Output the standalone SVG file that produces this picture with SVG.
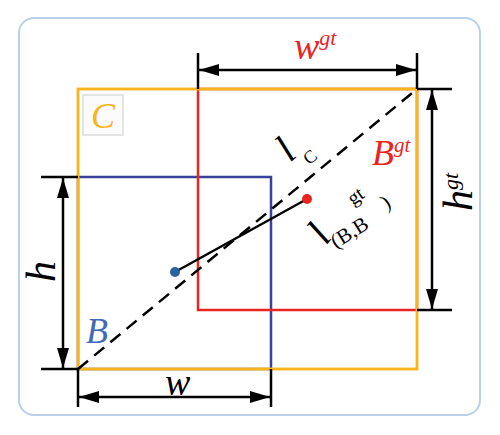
<svg xmlns="http://www.w3.org/2000/svg" width="500" height="435" viewBox="0 0 500 435">
<style>
.mi{font-family:"Liberation Serif","DejaVu Serif",serif;font-style:italic}
.rm{font-family:"Liberation Serif","DejaVu Serif",serif}
.dim{stroke:#000;stroke-width:2.5;fill:none}
.ext{stroke:#000;stroke-width:2.5;fill:none}
</style>
<defs>
<marker id="ah" viewBox="0 0 20 12" refX="20" refY="6" markerWidth="20" markerHeight="12" markerUnits="userSpaceOnUse" orient="auto-start-reverse">
<path d="M0,0 L20,6 L0,12 z" fill="#000"/>
</marker>
</defs>
<rect x="0" y="0" width="500" height="435" fill="#fff"/>
<rect id="frame" x="19" y="18" width="461" height="397" rx="15" ry="15" fill="#fff" stroke="#b9cfea" stroke-width="2"/>

<g id="box-B">
<rect x="78" y="177" width="193" height="192" fill="none" stroke="#39429a" stroke-width="2.5"/>
</g>
<g id="box-Bgt">
<rect x="198" y="89" width="219" height="221" fill="none" stroke="#e8261f" stroke-width="2.5"/>
</g>
<g id="box-C">
<rect x="78" y="89" width="339" height="280" fill="none" stroke="#f9b31b" stroke-width="2.8"/>
</g>

<g id="connectors">
<line x1="78" y1="369" x2="417" y2="89" stroke="#000" stroke-width="2.5" stroke-dasharray="13,8"/>
<line x1="175" y1="272" x2="307" y2="199" stroke="#000" stroke-width="2.5"/>
<!-- top w^gt dimension -->
<line class="ext" x1="198" y1="53" x2="198" y2="89"/>
<line class="ext" x1="417" y1="53" x2="417" y2="89"/>
<line class="dim" x1="199" y1="70" x2="416" y2="70" marker-start="url(#ah)" marker-end="url(#ah)"/>
<!-- right h^gt dimension -->
<line class="ext" x1="417" y1="89" x2="452" y2="89"/>
<line class="ext" x1="417" y1="310" x2="452" y2="310"/>
<line class="dim" x1="432" y1="90" x2="432" y2="309" marker-start="url(#ah)" marker-end="url(#ah)"/>
<!-- left h dimension -->
<line class="ext" x1="41" y1="177" x2="78" y2="177"/>
<line class="ext" x1="41" y1="369" x2="78" y2="369"/>
<line class="dim" x1="63" y1="178" x2="63" y2="368" marker-start="url(#ah)" marker-end="url(#ah)"/>
<!-- bottom w dimension -->
<line class="ext" x1="78" y1="369" x2="78" y2="407"/>
<line class="ext" x1="271" y1="369" x2="271" y2="407"/>
<line class="dim" x1="79" y1="397" x2="270" y2="397" marker-start="url(#ah)" marker-end="url(#ah)"/>
</g>

<g id="center-B">
<circle cx="175" cy="272" r="5" fill="#2c62a0"/>
</g>
<g id="center-Bgt">
<circle cx="307" cy="199" r="5" fill="#e8261f"/>
</g>

<g id="label-C">
<rect x="83" y="95" width="40" height="40" fill="#fbfbfb" stroke="#dcdcdc" stroke-width="1.5"/>
<text class="mi" x="91" y="128" font-size="36" fill="#f9b31b">C</text>
</g>
<g id="label-B">
<text class="mi" x="86" y="343" font-size="36" fill="#4169b8">B</text>
</g>
<g id="label-Bgt">
<text class="mi" x="372" y="165" font-size="36" fill="#e8261f">B<tspan font-size="21" dy="-13">gt</tspan></text>
</g>
<g id="label-wgt">
<text class="mi" x="294" y="59" font-size="38" fill="#e8261f">w<tspan font-size="22" dy="-14">gt</tspan></text>
</g>
<g id="label-w">
<text class="mi" x="165" y="395" font-size="38" fill="#000">w</text>
</g>
<g id="label-h">
<text class="mi" transform="translate(55,282) rotate(-90)" x="0" y="0" font-size="42" fill="#000">h</text>
</g>
<g id="label-hgt">
<text class="mi" transform="translate(472,211) rotate(-90)" x="0" y="0" font-size="42" fill="#000">h<tspan font-size="22" dy="-14">gt</tspan></text>
</g>
<g id="label-lC">
<text class="mi" transform="translate(290,163) rotate(-42)" x="0" y="0" font-size="40" fill="#000">l</text>
<text class="rm" transform="translate(310,157) rotate(-40)" x="0" y="6" font-size="18" text-anchor="middle" fill="#000">C</text>
</g>
<g id="label-lBBgt">
<text class="mi" transform="translate(326,246) rotate(-52)" x="0" y="0" font-size="40" fill="#000">l</text>
<text class="rm" transform="translate(336,249) rotate(-32)" x="0" y="0" font-size="21" fill="#000">(B,B</text>
<text class="rm" transform="translate(357,198) rotate(-35)" x="0" y="4" font-size="20" text-anchor="middle" fill="#000">gt</text>
<text class="rm" transform="translate(386,203) rotate(-32)" x="0" y="6" font-size="21" text-anchor="middle" fill="#000">)</text>
</g>
</svg>
